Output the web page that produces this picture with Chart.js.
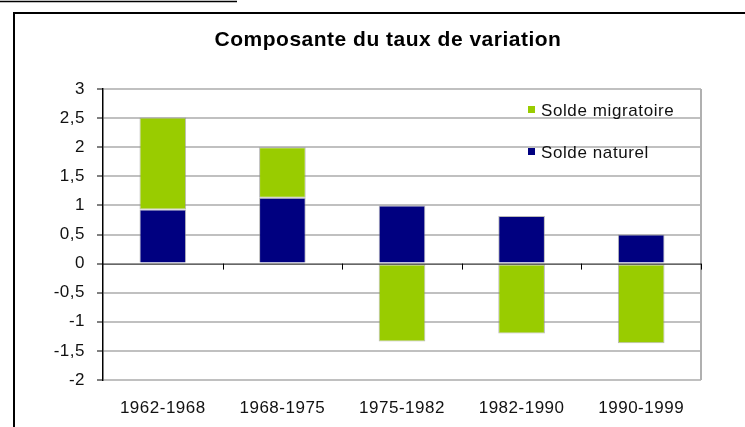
<!DOCTYPE html>
<html>
<head>
<meta charset="utf-8">
<script src="https://cdn.jsdelivr.net/npm/chart.js@4.4.0/dist/chart.umd.min.js"></script>
<style>
  html, body { margin: 0; padding: 0; background: #fff; }
  #wrap { width: 745px; height: 427px; }
</style>
</head>
<body>
<div id="wrap"><canvas id="chartSoldes" width="745" height="427"></canvas></div>
<script>
// Périodes et composantes (en %)
const periodes = ['1962-1968', '1968-1975', '1975-1982', '1982-1990', '1990-1999'];
const soldeNaturel = [0.93, 1.13, 1.0, 0.82, 0.5];
const soldeMigratoire = [1.58, 0.87, -1.34, -1.2, -1.37];
const yTicks = [3, 2.5, 2, 1.5, 1, 0.5, 0, -0.5, -1, -1.5, -2];

const VERT = '#99cc00';
const BLEU = '#000080';
const POLICE = 'Liberation Sans, Arial, sans-serif';

// cadre, titre, légende et petites graduations sur l'axe zéro
const decor = {
    id: 'decor',
    beforeLayout(chart) {
        chart.ctx.letterSpacing = '0.5px';
    },
    beforeDraw(chart) {
        const c = chart.ctx;
        c.save();
        c.fillStyle = '#fff';
        c.fillRect(0, 0, chart.width, chart.height);
        c.strokeStyle = '#000';
        c.lineWidth = 1.5;
        c.beginPath();
        c.moveTo(0, 1.5); c.lineTo(237, 1.5);
        c.stroke();
        c.lineWidth = 2;
        c.strokeRect(14, 13, chart.width + 20, chart.height + 20);
        c.restore();
        c.letterSpacing = '0.5px';
    },
    afterDraw(chart) {
        const c = chart.ctx;
        const a = chart.chartArea;
        const x = chart.scales.x, y = chart.scales.y;
        c.save();
        // bordure droite de la zone de tracé
        c.strokeStyle = '#b0b0b0';
        c.lineWidth = 2;
        c.beginPath();
        c.moveTo(a.right, a.top); c.lineTo(a.right, a.bottom);
        c.stroke();
        // graduations sous l'axe zéro
        const y0 = y.getPixelForValue(0);
        c.strokeStyle = '#000';
        c.lineWidth = 1;
        c.beginPath();
        c.moveTo(a.left, y0 + 0.5); c.lineTo(a.right, y0 + 0.5);
        for (let i = 1; i <= periodes.length; i++) {
            const px = Math.round(x.getPixelForValue(i - 0.5)) + 0.5;
            c.moveTo(px, y0); c.lineTo(px, y0 + 6);
        }
        c.stroke();
        // titre
        c.fillStyle = '#000';
        c.font = 'bold 21px ' + POLICE;
        c.letterSpacing = '0.5px';
        c.textAlign = 'center';
        c.textBaseline = 'middle';
        c.fillText('Composante du taux de variation', 388, 40);
        // légende
        c.font = '17px ' + POLICE;
        c.letterSpacing = '0.6px';
        c.textAlign = 'left';
        const items = [
            [chart.data.datasets[1].label, VERT, 110],
            [chart.data.datasets[0].label, BLEU, 152]
        ];
        items.forEach(([txt, col, ly]) => {
            c.fillStyle = col;
            c.fillRect(528, ly - 4, 7, 7);
            c.fillStyle = '#111';
            c.fillText(txt, 541, ly + 1);
        });
        c.restore();
    }
};

new Chart(document.getElementById('chartSoldes').getContext('2d'), {
    type: 'bar',
    data: {
        labels: periodes,
        datasets: [
            {
                label: 'Solde naturel',
                data: soldeNaturel,
                backgroundColor: BLEU,
                borderColor: 'rgba(140,140,140,0.6)',
                borderWidth: 1,
                borderSkipped: 'start'
            },
            {
                label: 'Solde migratoire',
                data: soldeMigratoire,
                backgroundColor: VERT,
                borderColor: 'rgba(140,140,140,0.6)',
                borderWidth: 1,
                borderSkipped: false
            }
        ]
    },
    options: {
        responsive: false,
        animation: false,
        layout: { padding: { left: 0, right: 44, top: 89, bottom: 0 } },
        plugins: {
            legend: { display: false },
            title: { display: false },
            tooltip: { enabled: false }
        },
        datasets: { bar: { categoryPercentage: 1, barPercentage: 0.39 } },
        scales: {
            x: {
                stacked: true,
                grid: { display: false },
                border: { display: false },
                ticks: {
                    color: '#111',
                    padding: 10,
                    font: { size: 17, family: POLICE }
                },
                afterFit(s) { s.height = 47; }
            },
            y: {
                stacked: true,
                min: -2,
                max: 3,
                afterBuildTicks(s) { s.ticks = yTicks.map(v => ({ value: v })); },
                grid: {
                    color: ctx => ctx.tick && ctx.tick.value === 0 ? 'rgba(0,0,0,0)' : '#c0c0c0',
                    lineWidth: 2,
                    tickColor: '#000',
                    tickLength: 6,
                    tickWidth: 1
                },
                border: { display: true, color: '#000', width: 1.5 },
                ticks: {
                    color: '#111',
                    padding: 12,
                    font: { size: 17, family: POLICE },
                    callback: v => String(v).replace('.', ',')
                },
                afterFit(s) { s.width = 103; }
            }
        }
    },
    plugins: [decor]
});
</script>
</body>
</html>
